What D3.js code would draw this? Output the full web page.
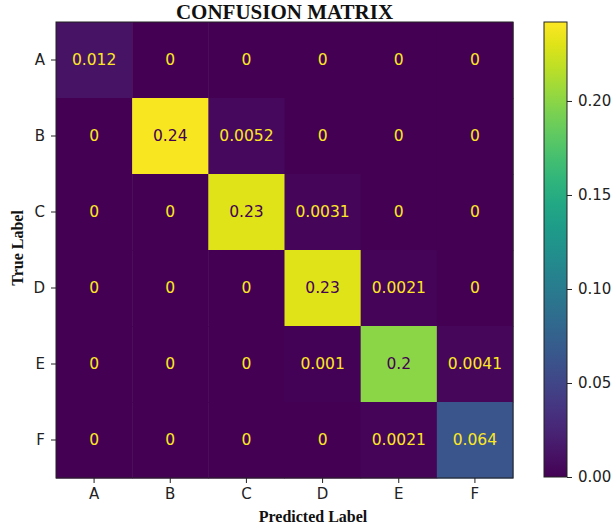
<!DOCTYPE html>
<html>
<head>
<meta charset="utf-8">
<script src="https://cdn.jsdelivr.net/npm/d3@7"></script>
<style>
  body { margin: 0; background: #fff; }
  svg { display: block; }
</style>
</head>
<body>
<svg id="chart" width="616" height="531"></svg>
<script>
const labels = ["A", "B", "C", "D", "E", "F"];

// rows = true label, cols = predicted label
const rowA = [0.012, 0, 0, 0, 0, 0];
const rowB = [0, 0.24, 0.0052, 0, 0, 0];
const rowC = [0, 0, 0.23, 0.0031, 0, 0];
const rowD = [0, 0, 0, 0.23, 0.0021, 0];
const rowE = [0, 0, 0, 0.001, 0.2, 0.0041];
const rowF = [0, 0, 0, 0, 0.0021, 0.064];
const rows = [rowA, rowB, rowC, rowD, rowE, rowF];

const cbTicks = [0, 0.05, 0.1, 0.15, 0.2];
const vmax = 0.242;

const cells = [];
rows.forEach((r, i) => r.forEach((v, j) => cells.push({t: labels[i], p: labels[j], v})));

const svg = d3.select("#chart");

const mLeft = 56, mRight = 513, mTop = 22, mBottom = 478;

const x = d3.scaleBand(labels, [mLeft, mRight]);
const y = d3.scaleBand(labels, [mTop, mBottom]);
const color = d3.scaleSequential(d3.interpolateViridis).domain([0, vmax]);

svg.selectAll(".cell")
  .data(cells)
  .enter()
  .append("rect")
  .attr("class", "cell")
  .attr("x", d => x(d.p))
  .attr("y", d => y(d.t))
  .attr("width", x.bandwidth() + 0.5)
  .attr("height", y.bandwidth() + 0.5)
  .attr("fill", d => color(d.v));

const thresh = vmax / 2;
svg.selectAll(".val")
  .data(cells)
  .enter()
  .append("text")
  .attr("class", "val")
  .attr("x", d => x(d.p) + x.bandwidth() / 2)
  .attr("y", d => y(d.t) + y.bandwidth() / 2)
  .attr("text-anchor", "middle")
  .attr("dominant-baseline", "central")
  .attr("font-family", "DejaVu Sans")
  .attr("font-size", "15.5px")
  .attr("fill", d => d.v > thresh ? color(0) : color(vmax))
  .text(d => d.v);

svg.append("rect")
  .attr("x", mLeft).attr("y", mTop)
  .attr("width", mRight - mLeft).attr("height", mBottom - mTop)
  .attr("fill", "none").attr("stroke", "#222").attr("stroke-width", 1);

const xAxis = d3.axisBottom(x).tickSize(5).tickPadding(5);
const yAxis = d3.axisLeft(y).tickSize(5).tickPadding(6);

const gx = svg.append("g")
  .attr("transform", `translate(0, ${mBottom})`)
  .call(xAxis);
const gy = svg.append("g")
  .attr("transform", `translate(${mLeft}, 0)`)
  .call(yAxis);

[gx, gy].forEach(g => {
  g.select(".domain").remove();
  g.selectAll("line").attr("stroke", "#222");
  g.selectAll("text")
    .attr("font-family", "DejaVu Sans")
    .attr("font-size", "15px")
    .attr("fill", "#222");
});

// colorbar
const cbLeft = 544, cbRight = 567, cbTop = 22, cbBottom = 477;
const cbScale = d3.scaleLinear([0, vmax], [cbBottom, cbTop]);

const grad = svg.append("defs").append("linearGradient")
  .attr("id", "cbgrad")
  .attr("x1", 0).attr("y1", 1).attr("x2", 0).attr("y2", 0);
d3.range(0, 1.0001, 0.05).forEach(t => {
  grad.append("stop")
    .attr("offset", t)
    .attr("stop-color", d3.interpolateViridis(t));
});

svg.append("rect")
  .attr("x", cbLeft).attr("y", cbTop)
  .attr("width", cbRight - cbLeft).attr("height", cbBottom - cbTop)
  .attr("fill", "url(#cbgrad)")
  .attr("stroke", "#222").attr("stroke-width", 1);

const cbAxis = d3.axisRight(cbScale)
  .tickValues(cbTicks)
  .tickFormat(d3.format(".2f"))
  .tickSize(5).tickPadding(6);

const gc = svg.append("g")
  .attr("transform", `translate(${cbRight}, 0)`)
  .call(cbAxis);
gc.select(".domain").remove();
gc.selectAll("line").attr("stroke", "#222");
gc.selectAll("text")
  .attr("font-family", "DejaVu Sans")
  .attr("font-size", "15px")
  .attr("fill", "#222");

// titles
svg.append("text")
  .attr("x", (mLeft + mRight) / 2)
  .attr("y", 19)
  .attr("text-anchor", "middle")
  .attr("font-family", "Liberation Serif")
  .attr("font-weight", "bold")
  .attr("font-size", "21px")
  .attr("fill", "#111")
  .text("CONFUSION MATRIX");

svg.append("text")
  .attr("x", 313)
  .attr("y", 522)
  .attr("text-anchor", "middle")
  .attr("font-family", "Liberation Serif")
  .attr("font-weight", "bold")
  .attr("font-size", "16px")
  .attr("fill", "#111")
  .text("Predicted Label");

svg.append("text")
  .attr("transform", `translate(23, 248) rotate(-90)`)
  .attr("text-anchor", "middle")
  .attr("font-family", "Liberation Serif")
  .attr("font-weight", "bold")
  .attr("font-size", "16px")
  .attr("fill", "#111")
  .text("True Label");
</script>
</body>
</html>
